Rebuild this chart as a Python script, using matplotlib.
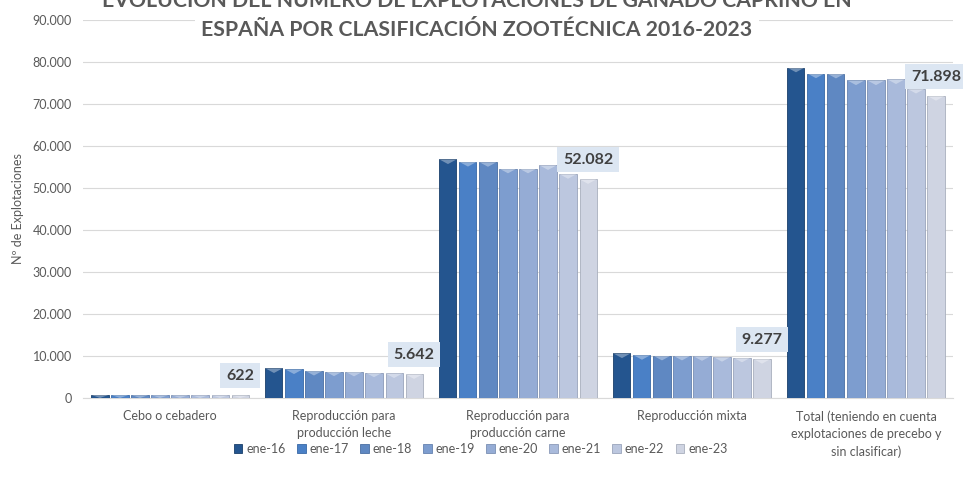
import matplotlib.pyplot as plt
import numpy as np
from matplotlib.ticker import FuncFormatter

plt.rcParams['font.family'] = ['Lato', 'DejaVu Sans']

categorias = ["Cebo o cebadero",
              "Reproducción para\nproducción leche",
              "Reproducción para\nproducción carne",
              "Reproducción mixta",
              "Total (teniendo en cuenta\nexplotaciones de precebo y\nsin clasificar)"]
series = ["ene-16", "ene-17", "ene-18", "ene-19", "ene-20", "ene-21", "ene-22", "ene-23"]

cebo = [720, 700, 690, 670, 660, 650, 640, 622]
leche = [7050, 6800, 6450, 6300, 6250, 6050, 5850, 5642]
carne = [56800, 56200, 56150, 54600, 54600, 55400, 53300, 52082]
mixta = [10600, 10200, 10050, 10050, 9950, 9750, 9600, 9277]
total = [78650, 77250, 77200, 75600, 75600, 75850, 73600, 71898]

colores = ["#24558f", "#4a80c6", "#5f88c2", "#7d9dcf", "#95acd5", "#a9badb", "#bcc7df", "#cfd4e2"]
bordes = ["#1a3f6b", "#3868a6", "#4a6fa3", "#6582b0", "#7a8fb3", "#8b9ab8", "#9aa5bb", "#a9afbd"]

datos = np.array([cebo, leche, carne, mixta, total])  # filas = categorias

fig = plt.figure(figsize=(9.63, 4.82), dpi=100)
ax = fig.add_axes([0.0862, 0.1743, 0.9034, 0.7842])

x = np.arange(len(categorias))
paso = 0.115
ancho = 0.098
gris = "#595959"

for i, s in enumerate(series):
    pos = x + (i - 3.5) * paso
    vals = datos[:, i]
    ax.bar(pos, vals, width=ancho, color=colores[i], edgecolor=bordes[i],
           linewidth=0.6, label=s, zorder=3)
    # bisel superior claro
    for px, v in zip(pos, vals):
        h = min(v, 1100)
        ax.fill([px - ancho / 2, px + ancho / 2, px], [v, v, v - h],
                color="white", alpha=0.35, lw=0, zorder=4)
    if i == len(series) - 1:
        for px, v in zip(pos, vals):
            ax.annotate(f"{v:,}".replace(",", "."), (px, v), xytext=(0, 9),
                        textcoords="offset points", ha="center", va="bottom",
                        fontsize=11.5, fontweight="bold", color="#404040", zorder=6,
                        bbox=dict(boxstyle="square,pad=0.35", fc="#dce6f2", ec="none"))

ax.set_xlim(-0.5, 4.5)
ax.set_ylim(0, 90000)
ax.set_yticks(np.arange(0, 90001, 10000))
ax.yaxis.set_major_formatter(FuncFormatter(lambda v, p: f"{int(v):,}".replace(",", ".")))
ax.set_xticks(x)
ax.set_xticklabels(categorias, fontsize=9, color=gris, linespacing=1.5)
ax.tick_params(axis="y", labelsize=9, colors=gris, length=0, pad=8)
ax.tick_params(axis="x", length=0, pad=9)
ax.grid(axis="y", color="#d9d9d9", lw=0.8, zorder=0)
for sp in ["top", "right", "left"]:
    ax.spines[sp].set_visible(False)
ax.spines["bottom"].set_color("#d9d9d9")
ax.set_ylabel("Nº de Explotaciones", fontsize=9, color=gris, labelpad=6)

# titulo (primera linea queda cortada arriba, como en el original)
fig.text(0.495, 0.997, "EVOLUCIÓN DEL NÚMERO DE EXPLOTACIONES DE GANADO CAPRINO EN",
         ha="center", va="center", fontsize=15.3, fontweight="bold", color=gris, zorder=10)
fig.text(0.495, 0.937, "ESPAÑA POR CLASIFICACIÓN ZOOTÉCNICA 2016-2023",
         ha="center", va="center", fontsize=15.3, fontweight="bold", color=gris, zorder=10,
         bbox=dict(boxstyle="square,pad=0.3", fc="white", ec="none"))

leg = fig.legend(loc="center", bbox_to_anchor=(0.499, 0.068), ncol=8, frameon=False,
                 fontsize=9, handlelength=0.7, handleheight=0.7, handletextpad=0.3,
                 columnspacing=0.9)
for t in leg.get_texts():
    t.set_color(gris)

fig.savefig("out.png", dpi=100)
